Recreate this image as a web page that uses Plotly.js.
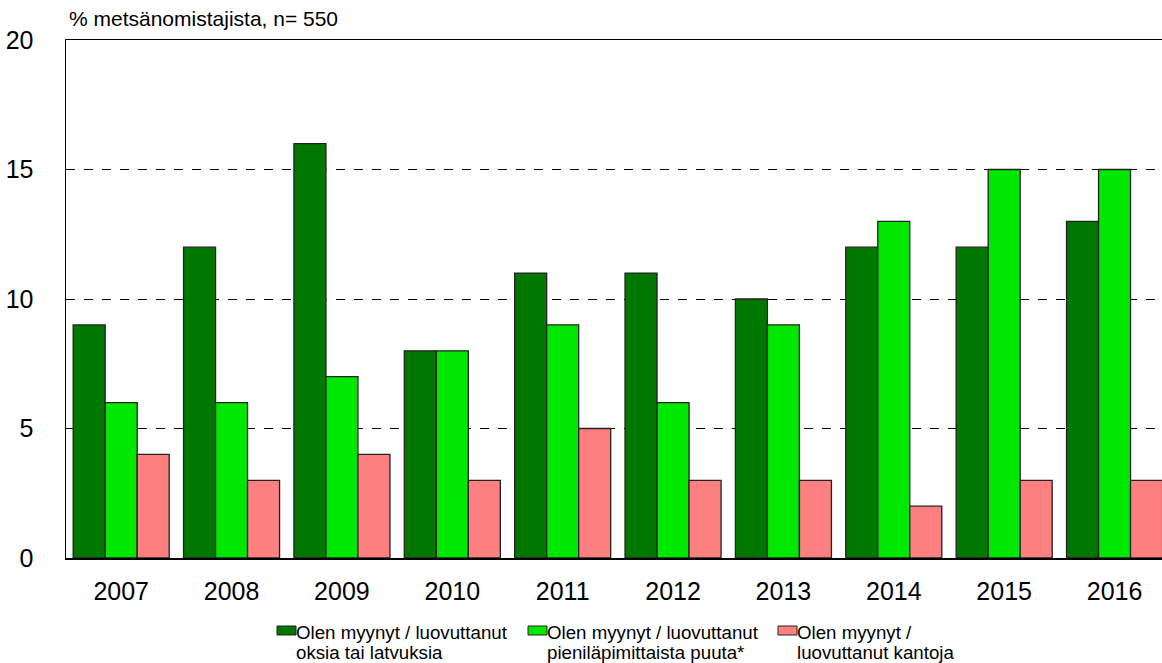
<!DOCTYPE html>
<html>
<head>
<meta charset="utf-8">
<script src="https://cdn.plot.ly/plotly-3.0.1.min.js"></script>
<style>
  html, body { margin: 0; padding: 0; background: #fff; }
  #chart { width: 1162px; height: 663px; }
</style>
</head>
<body>
<div id="chart"></div>
<script>
var years = ["2007", "2008", "2009", "2010", "2011", "2012", "2013", "2014", "2015", "2016"];
var oksia = [9, 12, 16, 8, 11, 11, 10, 12, 12, 13];
var pieni = [6, 6, 7, 8, 9, 6, 9, 13, 15, 15];
var kantoja = [4, 3, 4, 3, 5, 3, 3, 2, 3, 3];
var nameLines = [
    ["Olen myynyt / luovuttanut", "oksia tai latvuksia"],
    ["Olen myynyt / luovuttanut", "pieniläpimittaista puuta*"],
    ["Olen myynyt /", "luovuttanut kantoja"]
];
var colors = ["#007800", "#00E800", "#FF8080"];
var series = [oksia, pieni, kantoja];

// plot box in pixels, used to place the legend in paper units
var W = 1162, H = 663, ml = 66, mr = 0, mt = 40, mb = 105;
var pw = W - ml - mr, ph = H - mt - mb;
function px(x) { return (x - ml) / pw; }
function py(y) { return (H - mb - y) / ph; }

var data = series.map(function (vals, i) {
    return {
        x: years,
        y: vals,
        name: nameLines[i].join(" "),
        type: "bar",
        marker: {color: colors[i], line: {color: "#222", width: 1.3}},
        hoverinfo: "y"
    };
});

// hand-made legend so the text sits right after the swatch like the original
var legendX = [277, 528, 778];
var annotations = [{
    text: "% metsänomistajista, n= 550",
    xref: "paper", yref: "paper",
    x: px(67), y: py(19), xanchor: "left", yanchor: "middle",
    showarrow: false,
    font: {size: 21}
}];
var shapes = [];
legendX.forEach(function (lx, i) {
    shapes.push({
        type: "rect", xref: "paper", yref: "paper",
        x0: px(lx), x1: px(lx + 19), y0: py(626), y1: py(635),
        fillcolor: colors[i], line: {color: "#222", width: 1}
    });
    nameLines[i].forEach(function (line, j) {
        annotations.push({
            text: line,
            xref: "paper", yref: "paper",
            x: px(lx + 17), y: py(632 + j * 20),
            xanchor: "left", yanchor: "middle",
            showarrow: false,
            font: {size: 18.7}
        });
    });
});

var layout = {
    width: W,
    height: H,
    margin: {l: ml, r: mr, t: mt, b: mb},
    paper_bgcolor: "#fff",
    plot_bgcolor: "#fff",
    font: {family: "Liberation Sans, Arial, sans-serif", color: "#000"},
    barmode: "group",
    bargap: 0.13,
    bargroupgap: 0,
    showlegend: false,
    xaxis: {
        type: "category",
        range: [-0.5, 9.43],
        showline: true,
        mirror: true,
        linecolor: "#000",
        linewidth: 1.5,
        showgrid: false,
        ticks: "",
        tickfont: {size: 25},
        ticklabelstandoff: 10
    },
    yaxis: {
        range: [0, 20],
        tickvals: [0, 5, 10, 15, 20],
        showline: true,
        linecolor: "#000",
        linewidth: 1.5,
        showgrid: true,
        gridcolor: "#000",
        griddash: "dash",
        gridwidth: 1,
        zeroline: false,
        ticks: "",
        tickfont: {size: 25},
        ticklabelstandoff: 26
    },
    annotations: annotations,
    shapes: shapes
};

Plotly.newPlot("chart", data, layout, {displayModeBar: false, staticPlot: true});
</script>
</body>
</html>
